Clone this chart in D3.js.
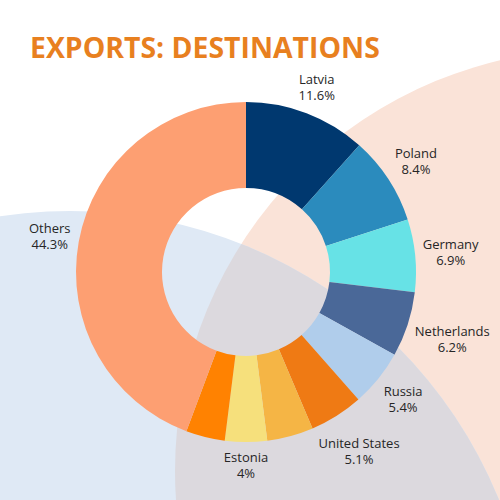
<!DOCTYPE html>
<html><head><meta charset="utf-8">
<script src="https://cdn.jsdelivr.net/npm/d3@7"></script>
<style>body{margin:0;background:#fff}svg{display:block}</style>
</head><body>
<svg id="chart" width="500" height="500"></svg>
<script>
const title = "EXPORTS: DESTINATIONS";
const categories = ["Latvia","Poland","Germany","Netherlands","Russia","United States","","Estonia","","Others"];
const values = [11.6, 8.4, 6.9, 6.2, 5.4, 5.1, 4.4, 4, 3.7, 44.3];
const colors = ["#00386f","#2b8bbd","#67e2e6","#4a6898","#b0cdeb","#ef7a14","#f5b545","#f6e07c","#ff8201","#fd9f72"];

const svg = d3.select("#chart");
const W = 500, H = 500;
svg.append("rect").attr("width",W).attr("height",H).attr("fill","#fff");

// decorative background circles
const defs = svg.append("defs");
defs.append("clipPath").attr("id","peachClip").append("circle").attr("cx",597).attr("cy",471).attr("r",422);
svg.append("circle").attr("cx",597).attr("cy",471).attr("r",422).attr("fill","#fae3d8");
svg.append("circle").attr("cx",70).attr("cy",674).attr("r",463).attr("fill","#dfe9f5");
svg.append("circle").attr("cx",70).attr("cy",674).attr("r",463).attr("fill","#dcd9de").attr("clip-path","url(#peachClip)");

// title
svg.append("text").attr("x",30).attr("y",58)
  .attr("font-family","'Open Sans', sans-serif").attr("font-weight",700).attr("font-size",28.4)
  .attr("fill","#e8801f").text(title);

const cx = 246, cy = 272, rIn = 84, rOut = 170;
const data = categories.map((c,i)=>({name:c, value:values[i], color:colors[i]}));
const pie = d3.pie().value(d=>d.value).sort(null);
const arc = d3.arc().innerRadius(rIn).outerRadius(rOut);
const g = svg.append("g").attr("transform",`translate(${cx},${cy})`);
const arcs = pie(data);
g.selectAll("path.slice").data(arcs).join("path").attr("class","slice")
  .attr("d",arc).attr("fill",d=>d.data.color);

// labels
const R0 = 176;
arcs.filter(d=>d.data.name !== "").forEach(d=>{
  const a = (d.startAngle + d.endAngle)/2;
  const t = g.append("text").attr("font-family","'Open Sans', sans-serif").attr("font-size",13)
    .attr("fill","#262626").attr("text-anchor","middle");
  t.append("tspan").attr("x",0).attr("dy",0).text(d.data.name);
  t.append("tspan").attr("x",0).attr("dy",16).text(d3.format(".1~f")(d.data.value)+"%");
  const bb = t.node().getBBox();
  const w = bb.width, h = bb.height;
  const dist = R0 + (w/2)*Math.abs(Math.sin(a)) + (h/2)*Math.abs(Math.cos(a));
  const px = Math.sin(a)*dist, py = -Math.cos(a)*dist;
  const bcy = bb.y + h/2;
  t.attr("transform",`translate(${px},${py - bcy})`);
});
</script>
</body></html>
